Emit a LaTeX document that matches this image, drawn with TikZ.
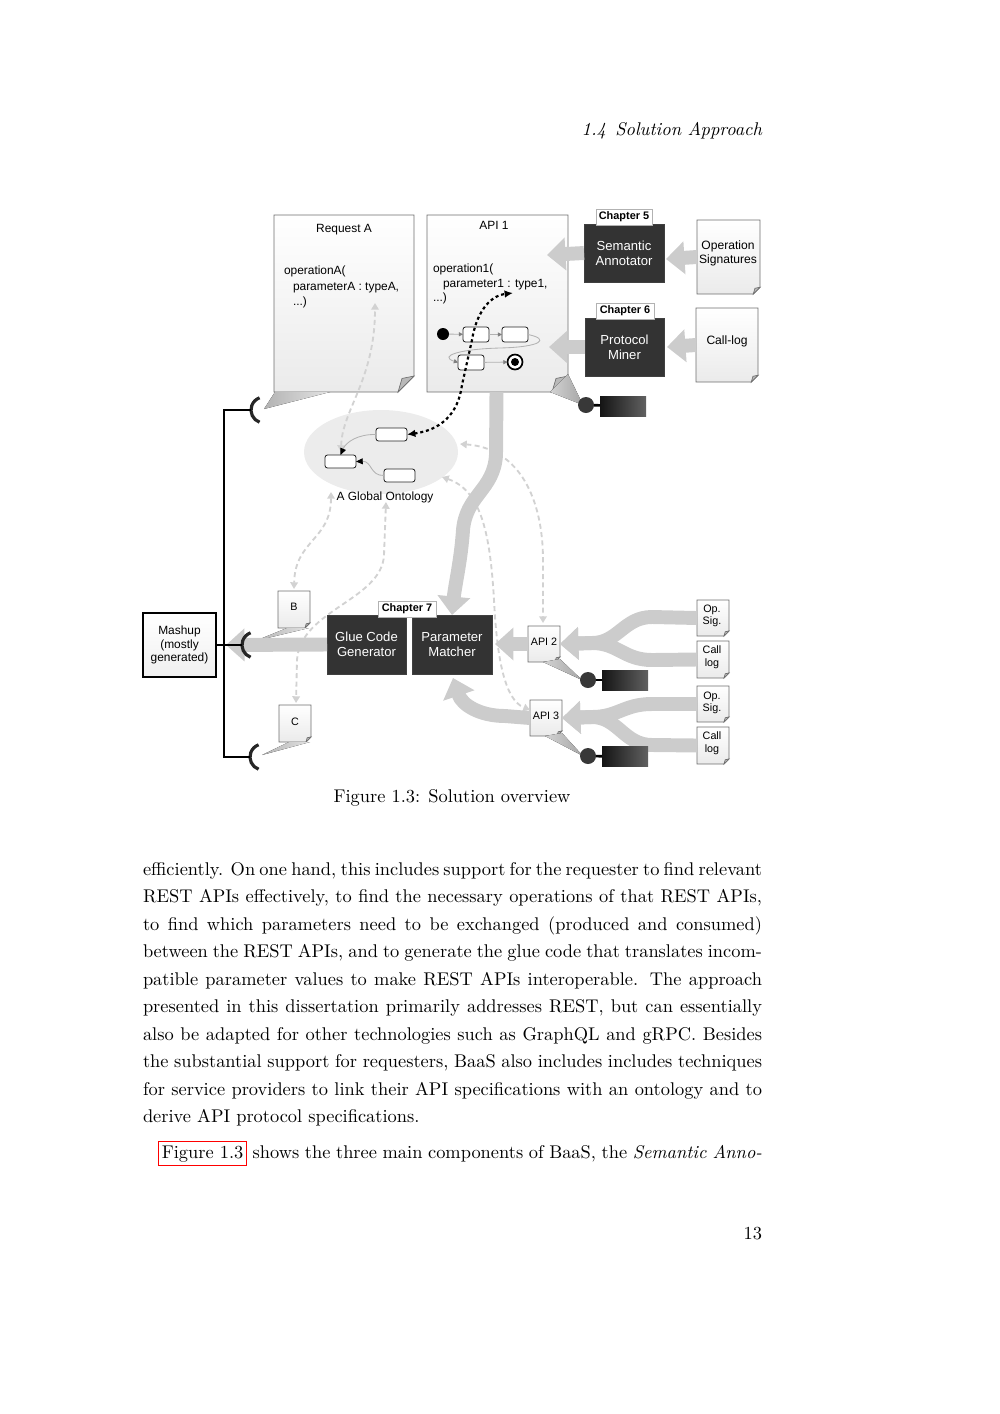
\documentclass[tikz,border=0pt]{standalone}
\usepackage{fontspec}
\newfontfamily\figfont{Liberation Sans}
\usetikzlibrary{arrows.meta,shapes.geometric,calc}
\definecolor{boxdark}{HTML}{333333}
\definecolor{agray}{HTML}{CCCCCC}
\definecolor{docline}{HTML}{6E6E6E}
\definecolor{dashgray}{HTML}{D2D2D2}
\newcommand\pxu{0.5953pt}
\newcommand\docframe[2]{%
  \path[docst] (#1.north west) -- (#1.north east) -- ([yshift=#2]#1.south east) -- ([xshift=-#2]#1.south east) -- (#1.south west) -- cycle;
  \path[foldst] ([yshift=#2]#1.south east) -- ([xshift=-#2]#1.south east) -- ([xshift=-0.75*#2,yshift=0.85*#2]#1.south east) -- cycle;
}
\newcommand\bodyline[3]{\node[bodytext] (#1) at (143,#2) {\makebox[368.5pt][s]{#3}};}
\begin{document}
\begin{tikzpicture}[x=0.5953pt,y=-0.5953pt,
  every node/.style={inner sep=0pt, outer sep=0pt},
  docnode/.style 2 args={minimum width=#1*\pxu, minimum height=#2*\pxu},
  docst/.style={draw=docline, line width=0.5pt, top color=white, bottom color=gray!16},
  foldst/.style={draw=docline, line width=0.4pt, fill=gray!55},
  darkbox/.style={fill=boxdark, draw=gray!50!black, line width=0.4pt, text=white, align=center,
     font=\figfont\fontsize{7.8}{9}\selectfont, minimum width=80*\pxu, minimum height=58*\pxu},
  chap/.style={fill=white, draw=gray!60, line width=0.5pt, font=\figfont\bfseries\fontsize{6.5}{7}\selectfont,
     minimum width=57*\pxu, minimum height=16*\pxu},
  bigarrow/.style={draw=agray, line width=8.3pt, -{Triangle[width=19pt,length=11pt]}},
  lightdash/.style={draw=dashgray, line width=1.1pt, dash pattern=on 3pt off 2pt,
     {Triangle[width=4.5pt,length=4pt]}-{Triangle[width=4.5pt,length=4pt]}},
  blackdot/.style={draw=black, line width=1.3pt, dash pattern=on 1.8pt off 1.7pt,
     {Latex[length=5pt,width=4.5pt]}-{Latex[length=5pt,width=4.5pt]}},
  thinarr/.style={draw=gray!60, line width=0.5pt, -{Triangle[length=4pt,width=3.5pt,black]}},
  wire/.style={draw=black, line width=1.2pt},
  sockst/.style={draw=black!85, line width=1.9pt},
  smallbox/.style={draw=gray!30!black, line width=0.5pt, fill=white, rounded corners=1.5pt},
  doctext/.style={font=\figfont\fontsize{7.1}{9}\selectfont, anchor=base west},
  doctitle/.style={font=\figfont\fontsize{7.1}{9}\selectfont, anchor=base},
  smalltext/.style={font=\figfont\fontsize{6.4}{7.4}\selectfont, align=center},
  lolli/.style={left color=black!92, right color=black!62, minimum width=46*\pxu, minimum height=20*\pxu},
  ball/.style={circle, fill=black!78, minimum size=16*\pxu},
  wedgeL/.style={left color=gray!60, right color=gray!22},
  wedgeR/.style={left color=gray!35, right color=gray!70},
  bodytext/.style={anchor=base west, font=\fontsize{10.95}{13.6}\selectfont}
]
\useasboundingbox (0,0) rectangle (1000,1414);

% ---------- page header ----------
\node[anchor=base east, font=\fontsize{10.95}{13.6}\selectfont\itshape] (hdr) at (762,135) {1.4\enskip Solution Approach};

% ---------- ontology ----------
\node[ellipse, fill=gray!15, minimum width=154*\pxu, minimum height=84*\pxu] (onto) at (381,452) {};
\node[doctitle] (ontolabel) at (385,500) {A Global Ontology};

% ---------- documents ----------
\node[docnode={140}{177}] (reqA) at (344,303.5) {};
\docframe{reqA}{9.5pt}
\node[docnode={141}{177}] (api1) at (497.5,303.5) {};
\docframe{api1}{9.5pt}
\node[docnode={63}{74}] (opsig) at (728.5,257) {};
\docframe{opsig}{4pt}
\node[docnode={62}{74}] (calllog) at (727,345) {};
\docframe{calllog}{4pt}
\node[docnode={32}{37}] (docB) at (294,609.5) {};
\docframe{docB}{3pt}
\node[docnode={32}{37}] (docC) at (295,723.5) {};
\docframe{docC}{3pt}
\node[docnode={32}{36}] (api2) at (544,644) {};
\docframe{api2}{3pt}
\node[docnode={32}{36}] (api3) at (546,718) {};
\docframe{api3}{3pt}
\node[docnode={32}{36}] (os2) at (713,618) {};
\docframe{os2}{3pt}
\node[docnode={32}{37}] (cl2) at (713,659.5) {};
\docframe{cl2}{3pt}
\node[docnode={32}{36}] (os3) at (713,704) {};
\docframe{os3}{3pt}
\node[docnode={32}{37}] (cl3) at (713,745.5) {};
\docframe{cl3}{3pt}

% document texts
\node[doctitle] (reqAt) at (344,232) {Request A};
\node[doctext] (reqA1) at (284,274) {operationA(};
\node[doctext] (reqA2) at (293,290) {parameterA : typeA,};
\node[doctext] (reqA3) at (293,305) {...)};
\node[doctitle] (api1t) at (494,229) {API 1};
\node[doctext] (api11) at (433,272) {operation1(};
\node[doctext] (api12) at (443,287) {parameter1 : type1,};
\node[doctext] (api13) at (433,301) {...)};
\node[font=\figfont\fontsize{7.2}{8.4}\selectfont, align=center] (opsigt) at (728,253) {Operation\\Signatures};
\node[font=\figfont\fontsize{7.2}{8.4}\selectfont] (calllogt) at (727,341) {Call-log};
\node[smalltext] (Bt) at (294,607) {B};
\node[smalltext] (Ct) at (295,722) {C};
\node[smalltext] (api2t) at (544,642) {API 2};
\node[smalltext] (api3t) at (546,716) {API 3};
\node[smalltext] (os2t) at (712,616) {Op.\\Sig.};
\node[smalltext] (cl2t) at (712,657) {Call\\log};
\node[smalltext] (os3t) at (712,703) {Op.\\Sig.};
\node[smalltext] (cl3t) at (712,743) {Call\\log};

% ---------- light dashed links ----------
\draw[lightdash] (341,452) .. controls (342,410) and (375,380) .. (375,303);
\draw[lightdash] (331,492) .. controls (331,540) and (295,540) .. (294,589);
\draw[lightdash] (386,502) -- (384,555) .. controls (382,600) and (300,610) .. (297,660) -- (296,703);
\draw[lightdash] (460,444) .. controls (520,448) and (543,500) .. (543,560) -- (543,623);
\draw[lightdash] (442,477) .. controls (480,490) and (490,530) .. (494,600) .. controls (497,660) and (505,700) .. (530,710);

% ---------- wedges (lollipop tails) ----------
\fill[wedgeL] (275,392) -- (330,392) -- (264,409) -- cycle;
\fill[wedgeL] (287,628) -- (309,628) -- (255,641) -- cycle;
\fill[wedgeL] (289,742) -- (310,742) -- (262,755) -- cycle;
\fill[wedgeR] (550,392) -- (568,374) -- (583,405) -- cycle;
\fill[wedgeR] (543,662) -- (560,659) -- (582,680) -- cycle;
\fill[wedgeR] (545,736) -- (562,733) -- (583,756) -- cycle;

% ---------- dark boxes ----------
\node[darkbox] (sa) at (624,253) {Semantic\\Annotator};
\node[darkbox, minimum width=79*\pxu] (pm) at (624.5,347) {Protocol\\Miner};
\node[darkbox, minimum width=79*\pxu, minimum height=59*\pxu] (gcg) at (366.5,644.5) {Glue Code\\Generator};
\node[darkbox, minimum height=59*\pxu] (parm) at (452,644.5) {Parameter\\Matcher};
\node[chap, minimum width=56*\pxu] (ch5) at (624,217) {Chapter 5};
\node[chap, minimum width=58*\pxu] (ch6) at (625,311) {Chapter 6};
\node[chap, minimum width=58*\pxu] (ch7) at (407,609) {Chapter 7};

% ---------- big grey arrows ----------
\draw[bigarrow] (opsig.west) -- (666,259);
\draw[bigarrow] (sa.west) -- (547,255);
\draw[bigarrow] (calllog.west) -- (667,347);
\draw[bigarrow] (pm.west) -- (549,347);
\draw[bigarrow] (api1.south) ++(-1,0) -- (496,455) .. controls (494,490) and (466,495) .. (463,530) .. controls (461,560) and (455,585) .. (parm.north);
\draw[bigarrow] (api2.west) -- (495,644);
\draw[bigarrow] (api3.west) -- (505,716) .. controls (480,716) and (462,705) .. (453,678);
\draw[bigarrow] (gcg.west) -- (226,645);
\draw[bigarrow] (os2.west) -- (652,617) .. controls (624,617) and (618,643) .. (592,643) -- (api2.east);
\draw[bigarrow] (cl2.west) -- (652,660) .. controls (624,660) and (618,643) .. (592,643) -- (api2.east);
\draw[bigarrow] (os3.west) -- (652,704) .. controls (624,704) and (618,717) .. (592,717) -- (api3.east);
\draw[bigarrow] (cl3.west) -- (652,745) .. controls (624,745) and (618,717) .. (592,717) -- (api3.east);

% ---------- state machine in API 1 ----------
\node[circle, fill=black, minimum size=12*\pxu] (st0) at (443,334) {};
\node[smallbox, minimum width=26*\pxu, minimum height=15*\pxu] (st1) at (476,334.5) {};
\node[smallbox, minimum width=26*\pxu, minimum height=15*\pxu] (st2) at (515,334.5) {};
\node[smallbox, minimum width=26*\pxu, minimum height=15*\pxu] (st3) at (471,362.5) {};
\node[circle, draw=black, line width=1pt, fill=white, minimum size=15*\pxu] (stf) at (515,362) {};
\node[circle, fill=black, minimum size=8*\pxu] (stfi) at (515,362) {};
\draw[draw=gray!60, line width=0.5pt, -{Triangle[length=2.5pt,width=2.5pt,gray]}] (st0) -- (st1);
\draw[draw=gray!60, line width=0.5pt, -{Triangle[length=2.5pt,width=2.5pt,gray]}] (st1) -- (st2);
\draw[draw=gray!60, line width=0.5pt, -{Triangle[length=2.5pt,width=2.5pt,gray]}] (st2.east) .. controls (550,339) and (542,347) .. (500,348) .. controls (460,349) and (438,356) .. (st3.west);
\draw[draw=gray!60, line width=0.5pt, -{Triangle[length=2.5pt,width=2.5pt,gray]}] (st3) -- (stf);

% ---------- ontology boxes ----------
\node[smallbox, minimum width=31*\pxu, minimum height=13*\pxu] (ot) at (391.5,434.5) {};
\node[smallbox, minimum width=31*\pxu, minimum height=13*\pxu] (ol) at (340.5,461.5) {};
\node[smallbox, minimum width=31*\pxu, minimum height=13*\pxu] (orr) at (399.5,475.5) {};
\draw[thinarr] (ot.west) .. controls (358,434) and (346,442) .. (ol.north);
\draw[thinarr] (orr.west) .. controls (370,476) and (372,461) .. (ol.east);

% ---------- black dotted link ----------
\draw[blackdot] (ot.east) .. controls (440,430) and (458,415) .. (462,385) -- (472,340) .. controls (476,315) and (488,296) .. (513,293);

% ---------- mashup and sockets ----------
\node[draw=black, line width=0.8pt, top color=white, bottom color=gray!12, align=center,
  font=\figfont\fontsize{7.1}{8.2}\selectfont, minimum width=73*\pxu, minimum height=64*\pxu] (mash) at (179.5,645) {Mashup\\(mostly\\generated)};
\coordinate (sk1) at (251,410);
\coordinate (sk2) at (242,645);
\coordinate (sk3) at (250,757);
\draw[sockst] (sk1) ++(13,0) ++(110:13) arc[start angle=110, end angle=250, radius=13];
\draw[sockst] (sk2) ++(13,0) ++(110:13) arc[start angle=110, end angle=250, radius=13];
\draw[sockst] (sk3) ++(13,0) ++(110:13) arc[start angle=110, end angle=250, radius=13];
\draw[wire] (sk1) -- (224,410) -- (224,757) -- (sk3);
\draw[wire] (mash.east) -- (sk2);

% ---------- lollipops ----------
\node[ball] (c1) at (586,405) {};
\node[lolli] (r1) at (623,406) {};
\node[ball] (c2) at (588,680) {};
\node[lolli] (r2) at (625,680) {};
\node[ball] (c3) at (588,756) {};
\node[lolli] (r3) at (625,756.5) {};
\draw[line width=1.6pt] (c1) -- (r1);
\draw[line width=1.6pt] (c2) -- (r2);
\draw[line width=1.6pt] (c3) -- (r3);

% ---------- caption ----------
\node[anchor=base, font=\fontsize{10.95}{13.6}\selectfont] (cap) at (452,802) {Figure 1.3: Solution overview};

% ---------- body text ----------
\bodyline{l1}{875}{efficiently. On one hand, this includes support for the requester to find relevant}
\bodyline{l2}{902.5}{REST APIs effectively, to find the necessary operations of that REST APIs,}
\bodyline{l3}{930}{to find which parameters need to be exchanged (produced and consumed)}
\bodyline{l4}{957.5}{between the REST APIs, and to generate the glue code that translates incom-}
\bodyline{l5}{985}{patible parameter values to make REST APIs interoperable. The approach}
\bodyline{l6}{1012.5}{presented in this dissertation primarily addresses REST, but can essentially}
\bodyline{l7}{1040}{also be adapted for other technologies such as GraphQL and gRPC. Besides}
\bodyline{l8}{1067.5}{the substantial support for requesters, BaaS also includes includes techniques}
\bodyline{l9}{1095}{for service providers to link their API specifications with an ontology and to}
\node[bodytext] (l10) at (143,1122.5) {derive API protocol specifications.};
\node[bodytext] (l11) at (143,1158) {\makebox[368.5pt][s]{\hspace*{9pt}{\setlength\fboxsep{1.6pt}\setlength\fboxrule{0.6pt}\fcolorbox{red}{white}{\rule[-2.6pt]{0pt}{10.5pt}Figure~1.3}} shows the three main components of BaaS, the \emph{Semantic Anno-}}};

% ---------- page number ----------
\node[anchor=base east, font=\fontsize{10.95}{13.6}\selectfont] (pnum) at (762,1239) {13};
\end{tikzpicture}
\end{document}
